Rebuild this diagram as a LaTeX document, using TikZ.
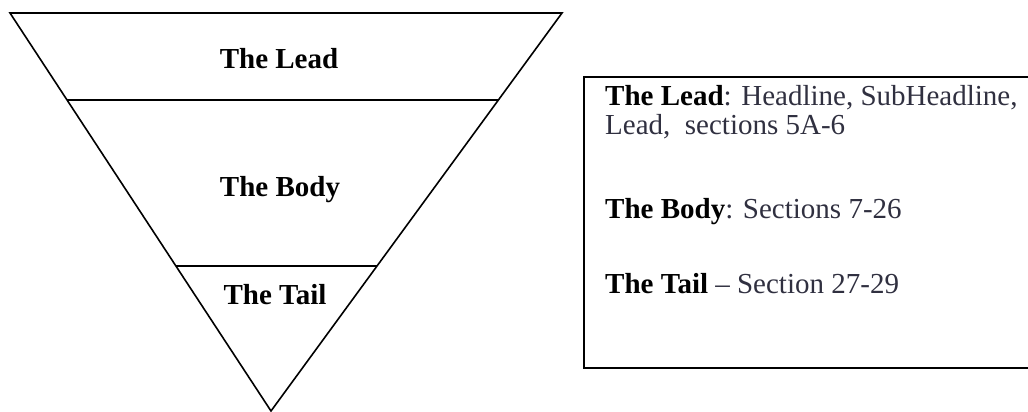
\documentclass[tikz,border=0pt]{standalone}
\usepackage{fontspec}
\setmainfont{Liberation Serif}
\usetikzlibrary{calc}
\definecolor{txtgray}{HTML}{303040}
\tikzset{
  edge/.style={line width=1.6pt, line join=miter},
  lbl/.style={font=\fontsize{29}{34}\selectfont\bfseries, anchor=base, inner sep=0pt},
  boxtxt/.style={font=\fontsize{29}{34}\selectfont, anchor=base west, inner sep=0pt, text=txtgray}
}
\begin{document}
\begin{tikzpicture}[x=1pt,y=-1pt]
\useasboundingbox (0,0) rectangle (1028,412);
\coordinate (tl) at (10,13);
\coordinate (tr) at (562,13);
\coordinate (ap) at (271,411);
\draw[edge] (tl) -- (tr) -- (ap) -- cycle;
\coordinate (l1a) at ($(tl)!0.2186!(ap)$);
\coordinate (l1b) at ($(tr)!0.2186!(ap)$);
\coordinate (l2a) at ($(tl)!0.6357!(ap)$);
\coordinate (l2b) at ($(tr)!0.6357!(ap)$);
\draw[edge] (l1a) -- (l1b);
\draw[edge] (l2a) -- (l2b);
\node[lbl] (tlead) at (279,68) {The Lead};
\node[lbl] (tbody) at (280,196) {The Body};
\node[lbl] (ttail) at (275,304) {The Tail};
\node[draw, line width=1.6pt, anchor=north west, minimum width=460pt, minimum height=291pt, inner sep=0pt] (box) at (583,76) {};
\node[boxtxt] (b1) at (605,105) {\textcolor{black}{\bfseries The Lead}: Headline, SubHeadline,};
\node[boxtxt] (b2) at (605,134) {Lead,\ \ sections 5A-6};
\node[boxtxt] (b3) at (605,218) {\textcolor{black}{\bfseries The Body}: Sections 7-26};
\node[boxtxt] (b4) at (605,293) {\textcolor{black}{\bfseries The Tail} -- Section 27-29};
\end{tikzpicture}
\end{document}
